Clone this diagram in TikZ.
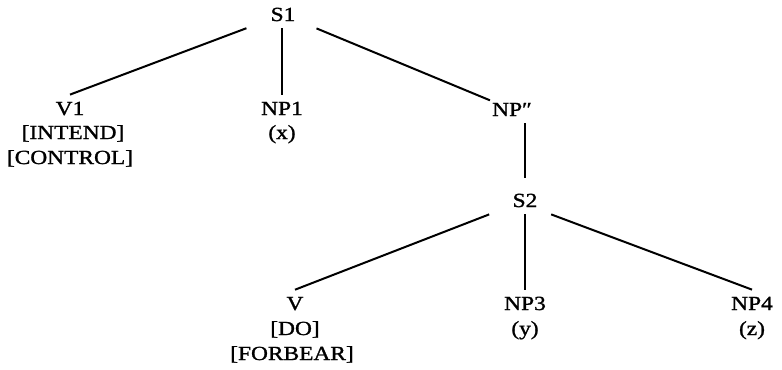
\documentclass[tikz,border=0pt]{standalone}
\usepackage{fontspec}
\setmainfont{Liberation Serif}[FakeStretch=1.17,FakeBold=1.3]
\begin{document}
\begin{tikzpicture}[x=1bp,y=-1bp,
  lbl/.style={anchor=base,inner xsep=2bp,inner ysep=7bp,font=\fontsize{20bp}{25bp}\selectfont},
  root/.style={lbl,inner xsep=24bp},
  edge/.style={line width=2bp,black}]
\useasboundingbox[fill=white] (0,0) rectangle (782,369);
% first level
\node[root] (S1) at (283,21) {S1};
\node[lbl] (V1) at (70,115) {V1};
\node[lbl] (INTEND) at (73,139) {[INTEND]};
\node[lbl] (CONTROL) at (70,164) {[CONTROL]};
\node[lbl] (NP1) at (282,115) {NP1};
\node[lbl] (x) at (282,139) {(x)};
\node[lbl] (NPpp) at (512,116) {NP″};
% second level
\node[root] (S2) at (525,207) {S2};
\node[lbl] (V) at (295,310) {V};
\node[lbl] (DO) at (295,335) {[DO]};
\node[lbl] (FORBEAR) at (292,360) {[FORBEAR]};
\node[lbl] (NP3) at (525,310) {NP3};
\node[lbl] (y) at (525,335) {(y)};
\node[lbl] (NP4) at (752,310) {NP4};
\node[lbl] (z) at (752,335) {(z)};
% connectors
\draw[edge] (S1) -- (V1.north);
\draw[edge] (NP1.north) -- (NP1.north |- S1.south);
\draw[edge] (S1) -- (NPpp);
\draw[edge,shorten >=9bp] (S2.north |- NPpp.south) -- (S2.north);
\draw[edge] (S2) -- (V.north);
\draw[edge] (S2.south) -- (NP3.north);
\draw[edge] (S2.-28) -- (NP4.north);
\end{tikzpicture}
\end{document}
